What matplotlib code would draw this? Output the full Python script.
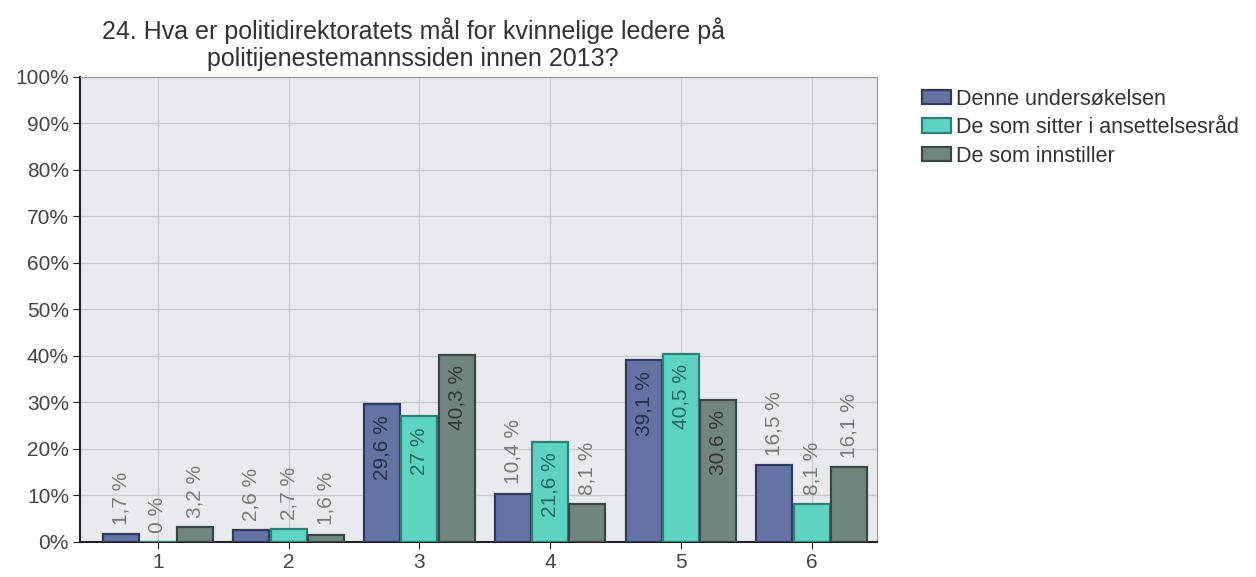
import numpy as np
import matplotlib.pyplot as plt

plt.rcParams['font.family'] = ['Liberation Sans', 'DejaVu Sans']

categories = ['1', '2', '3', '4', '5', '6']
series_names = ['Denne undersøkelsen', 'De som sitter i ansettelsesråd', 'De som innstiller']
denne = [1.7, 2.6, 29.6, 10.4, 39.1, 16.5]
ansettelsesrad = [0, 2.7, 27, 21.6, 40.5, 8.1]
innstiller = [3.2, 1.6, 40.3, 8.1, 30.6, 16.1]
labels = [['1,7 %', '2,6 %', '29,6 %', '10,4 %', '39,1 %', '16,5 %'],
          ['0 %', '2,7 %', '27 %', '21,6 %', '40,5 %', '8,1 %'],
          ['3,2 %', '1,6 %', '40,3 %', '8,1 %', '30,6 %', '16,1 %']]
yticks = [0, 10, 20, 30, 40, 50, 60, 70, 80, 90, 100]

colors = ['#6473a3', '#5fd3c2', '#728680']
edges = ['#2f3a5c', '#2e7f74', '#3a4743']
inner_text = ['#26304d', '#1e6b61', '#2f3a36']

fig = plt.figure(figsize=(12.56, 5.77), dpi=100)
ax = fig.add_axes([0.0637, 0.0607, 0.6345, 0.806])
ax.set_facecolor('#e8eaed')

x = np.arange(1, len(categories) + 1)
w = 0.285
for i, vals in enumerate([denne, ansettelsesrad, innstiller]):
    pos = x + (i - 1) * w
    ax.bar(pos, vals, width=w - 0.01, color=colors[i], edgecolor=edges[i],
           linewidth=1.6, label=series_names[i], zorder=3)
    for p, v, t in zip(pos, vals, labels[i]):
        if v > 20:
            ax.text(p, v - 2.3, t, rotation=90, ha='center', va='top',
                    fontsize=15, color=inner_text[i], zorder=4)
        else:
            ax.text(p, v + 2, t, rotation=90, ha='center', va='bottom',
                    fontsize=15, color='#7a7a7a', zorder=4)

ax.set_xlim(0.405, 6.5)
ax.set_ylim(0, 100)
ax.set_xticks(x)
ax.set_xticklabels(categories, fontsize=15, color='#444444')
ax.set_yticks(yticks)
ax.set_yticklabels([f'{t}%' for t in yticks], fontsize=15, color='#444444')
ax.grid(True, color='#c8cacd', linewidth=0.9, zorder=0)
ax.spines['left'].set_color('#222222')
ax.spines['bottom'].set_color('#222222')
ax.spines['left'].set_linewidth(1.5)
ax.spines['bottom'].set_linewidth(1.5)
ax.spines['top'].set_color('#9a9a9a')
ax.spines['right'].set_color('#9a9a9a')
ax.tick_params(axis='both', length=5, color='#222222', pad=3)

fig.text(0.329, 0.924, '24. Hva er politidirektoratets mål for kvinnelige ledere på\npolitijenestemannssiden innen 2013?',
         ha='center', va='center', fontsize=18, color='#333333', linespacing=1.15)

leg = ax.legend(loc='upper left', bbox_to_anchor=(1.056, 0.975), frameon=False,
                fontsize=15.5, handlelength=1.35, handleheight=0.65,
                handletextpad=0.25, labelspacing=0.35, borderaxespad=0, borderpad=0)
for t in leg.get_texts():
    t.set_color('#333333')

fig.savefig('out.png', dpi=100)
